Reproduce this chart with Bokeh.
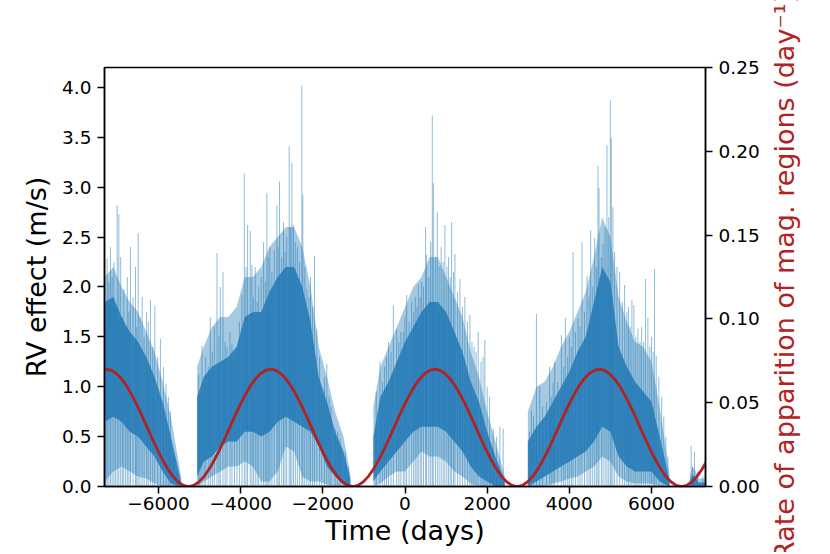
import numpy as np
from bokeh.plotting import figure
from bokeh.layouts import row
from bokeh.models import Range1d, LinearAxis, FixedTicker
from bokeh.core.properties import value
from bokeh.embed import file_html
from bokeh.resources import INLINE

# ---------------- data ----------------
x_ticks = [-6000, -4000, -2000, 0, 2000, 4000, 6000]
x_tick_labels = ["\u22126000", "\u22124000", "\u22122000", "0", "2000", "4000", "6000"]
y_ticks = [0.0, 0.5, 1.0, 1.5, 2.0, 2.5, 3.0, 3.5, 4.0]
y_tick_labels = ["0.0", "0.5", "1.0", "1.5", "2.0", "2.5", "3.0", "3.5", "4.0"]
rate_ticks = [0.0, 0.05, 0.10, 0.15, 0.20, 0.25]
rate_tick_labels = ["0.00", "0.05", "0.10", "0.15", "0.20", "0.25"]

# RV effect: envelopes of the dense noisy signal (per active cycle segment)
band_seg = [0]*10 + [1]*20 + [2]*17 + [3]*18 + [4]*5
band_t = [-7315, -7100, -6900, -6700, -6500, -6300, -6100, -5900, -5700, -5450,
          -5060, -4900, -4700, -4500, -4300, -4100, -3900, -3700, -3500, -3300,
          -3100, -2900, -2700, -2500, -2300, -2100, -1900, -1700, -1500, -1330,
          -770, -600, -400, -200, 0, 200, 400, 600, 800, 1000, 1200, 1400, 1600,
          1800, 2000, 2200, 2430,
          2990, 3200, 3400, 3600, 3800, 4000, 4200, 4400, 4600, 4800, 5000, 5200,
          5400, 5600, 5800, 6000, 6200, 6440,
          6930, 7000, 7080, 7150, 7315]
core_hi = [1.85, 1.90, 1.70, 1.55, 1.45, 1.30, 1.10, 0.85, 0.50, 0.05,
           0.90, 1.10, 1.20, 1.25, 1.30, 1.40, 1.70, 1.75, 1.75, 1.95,
           2.10, 2.20, 2.20, 2.00, 1.65, 1.10, 0.85, 0.55, 0.35, 0.08,
           0.50, 0.90, 1.05, 1.25, 1.45, 1.60, 1.75, 1.85, 1.85, 1.75, 1.55, 1.35, 1.05,
           0.85, 0.55, 0.30, 0.06,
           0.45, 0.60, 0.70, 0.85, 1.00, 1.15, 1.35, 1.50, 1.85, 2.20, 2.05, 1.40,
           1.20, 1.05, 0.95, 0.85, 0.50, 0.06,
           0.05, 0.12, 0.08, 0.04, 0.04]
core_lo = [0.65, 0.70, 0.65, 0.55, 0.50, 0.40, 0.30, 0.15, 0.03, 0.0,
           0.10, 0.25, 0.30, 0.40, 0.45, 0.45, 0.55, 0.55, 0.50, 0.55,
           0.65, 0.70, 0.65, 0.60, 0.55, 0.40, 0.20, 0.10, 0.02, 0.0,
           0.05, 0.15, 0.25, 0.35, 0.45, 0.55, 0.60, 0.60, 0.60, 0.55, 0.45, 0.35, 0.20,
           0.10, 0.05, 0.0, 0.0,
           0.0, 0.05, 0.10, 0.15, 0.20, 0.25, 0.30, 0.35, 0.45, 0.60, 0.55, 0.30,
           0.20, 0.15, 0.15, 0.15, 0.05, 0.0,
           0.0, 0.0, 0.0, 0.0, 0.0]
outer_hi = [2.10, 2.20, 2.00, 1.85, 1.75, 1.55, 1.35, 1.05, 0.70, 0.10,
            1.20, 1.40, 1.60, 1.70, 1.70, 1.80, 2.10, 2.10, 2.20, 2.40,
            2.50, 2.60, 2.60, 2.40, 2.00, 1.40, 1.10, 0.75, 0.50, 0.12,
            0.80, 1.20, 1.40, 1.60, 1.80, 2.00, 2.10, 2.30, 2.30, 2.10, 1.90, 1.70, 1.35,
            1.10, 0.75, 0.45, 0.10,
            0.75, 1.00, 1.05, 1.20, 1.40, 1.55, 1.75, 1.95, 2.30, 2.70, 2.50, 1.90,
            1.65, 1.45, 1.40, 1.25, 0.80, 0.12,
            0.10, 0.20, 0.15, 0.08, 0.08]
outer_lo = [0.05, 0.15, 0.20, 0.15, 0.10, 0.08, 0.03, 0.0, 0.0, 0.0,
            0.0, 0.05, 0.10, 0.15, 0.20, 0.20, 0.25, 0.20, 0.05, 0.05,
            0.15, 0.40, 0.35, 0.10, 0.05, 0.05, 0.02, 0.0, 0.0, 0.0,
            0.0, 0.03, 0.10, 0.15, 0.15, 0.25, 0.35, 0.30, 0.30, 0.25, 0.15, 0.10, 0.03,
            0.0, 0.0, 0.0, 0.0,
            0.0, 0.0, 0.0, 0.03, 0.05, 0.08, 0.10, 0.15, 0.20, 0.30, 0.25, 0.10,
            0.05, 0.03, 0.03, 0.03, 0.0, 0.0,
            0.0, 0.0, 0.0, 0.0, 0.0]

# individual spikes of the RV signal (time, value)
spike_t = [-7300, -7280, -7250, -7210, -7169, -7130, -7087, -7050, -7006, -6966,
           -6920, -6880, -6845, -6800, -6760, -6720, -6683, -6620, -6561, -6530,
           -6496, -6450, -6399, -6350, -6290, -6250, -6197, -6140, -6091, -6020,
           -5954, -5880, -5816, -5760, -5711, -5630, -5560,
           -5022, -4990, -4941, -4890, -4850, -4790, -4739, -4690, -4640, -4576,
           -4530, -4496, -4431, -4380, -4334, -4260, -4212, -4150, -4090, -4030,
           -3969, -3912, -3870, -3831, -3767, -3726, -3690, -3645, -3600, -3560,
           -3500, -3443, -3400, -3362, -3330, -3290, -3240, -3183, -3119, -3090,
           -3054, -3000, -2957, -2920, -2880, -2819, -2790, -2754, -2714, -2670,
           -2620, -2570, -2511, -2487, -2440, -2390, -2340, -2300, -2250, -2203,
           -2147, -2080, -2025, -1960, -1904, -1850, -1800, -1701, -1640, -1580,
           -1450, -1380,
           -700, -608, -550, -500, -450, -400, -340, -284, -203, -150, -100, -41,
           0, 41, 100, 162, 210, 250, 290, 324, 370, 405, 450, 502, 527, 580, 624,
           664, 689, 740, 786, 830, 880, 930, 972, 1020, 1060, 1100, 1134, 1180,
           1215, 1280, 1337, 1400, 1458, 1520, 1580, 1630, 1680, 1730, 1782, 1850,
           1900, 1944, 2000, 2060, 2147, 2230, 2309, 2390,
           3030, 3078, 3130, 3200, 3281, 3350, 3443, 3520, 3560, 3605, 3645, 3720,
           3807, 3860, 3904, 3960, 4000, 4050, 4091, 4150, 4212, 4260, 4309, 4370,
           4431, 4480, 4520, 4570, 4617, 4660, 4698, 4723, 4780, 4820, 4870, 4917,
           4960, 4998, 5022, 5060, 5103, 5160, 5225, 5290, 5346, 5400, 5440, 5480,
           5524, 5573, 5620, 5670, 5720, 5760, 5810, 5856, 5913, 5960, 6000, 6040,
           6075, 6115, 6180, 6250, 6300, 6350, 6400,
           6966, 7000, 7047, 7120, 7250]
spike_v = [1.85, 1.60, 2.28, 2.05, 2.40, 2.10, 2.25, 1.80, 2.82, 2.73,
           2.30, 1.70, 1.98, 1.60, 2.10, 1.75, 2.40, 1.90, 2.20, 1.60,
           2.54, 1.70, 1.90, 1.50, 1.75, 1.65, 1.87, 1.40, 1.81, 1.30,
           1.48, 1.20, 1.03, 0.90, 0.75, 0.31, 0.15,
           1.12, 0.95, 1.41, 1.05, 1.30, 1.20, 1.70, 1.35, 1.60, 2.34,
           1.50, 2.00, 2.15, 1.45, 1.40, 1.55, 1.43, 1.30, 1.40, 1.65,
           1.92, 3.14, 2.20, 2.62, 2.56, 2.22, 1.90, 2.20, 1.85, 2.00,
           2.10, 2.45, 2.05, 2.94, 2.30, 2.40, 2.15, 2.37, 2.82, 2.40,
           3.06, 2.30, 2.65, 2.35, 2.50, 3.41, 2.60, 3.24, 2.62, 2.45,
           2.40, 2.25, 4.02, 2.92, 2.20, 1.98, 1.90, 2.10, 1.80, 2.31,
           1.58, 1.30, 0.91, 1.10, 1.23, 0.90, 0.80, 0.58, 0.55, 0.48,
           0.35, 0.20,
           0.95, 1.25, 1.05, 1.20, 1.30, 1.45, 1.35, 1.81, 1.58, 1.45, 1.55, 1.55,
           1.70, 1.92, 1.65, 1.85, 1.75, 1.90, 1.80, 2.02, 1.90, 2.05, 2.00, 2.60,
           2.32, 2.10, 2.45, 3.72, 3.04, 2.30, 2.75, 2.20, 2.40, 2.25, 2.62, 2.20,
           2.30, 2.10, 2.65, 2.15, 2.33, 1.95, 2.08, 1.80, 1.90, 1.65, 1.72, 1.45,
           1.40, 1.35, 1.55, 1.25, 1.30, 1.47, 1.00, 0.90, 0.58, 0.50, 0.60, 0.58,
           0.55, 0.76, 0.70, 1.73, 1.00, 0.80, 0.85, 1.20, 0.90, 1.04, 1.25, 1.05,
           1.52, 1.20, 1.69, 1.30, 1.50, 1.40, 2.35, 1.55, 1.69, 1.60, 2.45, 1.75,
           2.11, 1.90, 2.57, 2.00, 2.49, 2.20, 3.22, 2.99, 2.30, 2.43, 2.60, 3.42,
           2.70, 3.87, 3.49, 2.80, 2.35, 2.20, 2.15, 1.85, 2.02, 1.75, 1.80, 1.60,
           1.87, 1.82, 1.50, 1.58, 1.45, 1.60, 1.45, 2.08, 1.69, 1.40, 1.50, 1.35,
           2.18, 1.31, 1.10, 0.90, 0.70, 0.50, 0.30,
           0.41, 0.20, 0.35, 0.15, 0.10]

# rate of apparition of magnetic regions (day^-1)
rate_t = [-7520, -7395, -7270, -7145, -7020, -6895, -6770, -6645, -6520, -6395,
          -6270, -6145, -6020, -5895, -5770, -5645, -5520, -5395, -5270, -5145,
          -5020, -4895, -4770, -4645, -4520, -4395, -4270, -4145, -4020, -3895,
          -3770, -3645, -3520, -3395, -3270, -3145, -3020, -2895, -2770, -2645,
          -2520, -2395, -2270, -2145, -2020, -1895, -1770, -1645, -1520, -1395,
          -1270, -1145, -1020, -895, -770, -645, -520, -395, -270, -145,
          -20, 105, 230, 355, 480, 605, 730, 855, 980, 1105,
          1230, 1355, 1480, 1605, 1730, 1855, 1980, 2105, 2230, 2355,
          2480, 2605, 2730, 2855, 2980, 3105, 3230, 3355, 3480, 3605,
          3730, 3855, 3980, 4105, 4230, 4355, 4480, 4605, 4730, 4855,
          4980, 5105, 5230, 5355, 5480, 5605, 5730, 5855, 5980, 6105,
          6230, 6355, 6480, 6605, 6730, 6855, 6980, 7105, 7230, 7355, 7480]
rate_v = [0.0673, 0.0693,
          0.0700, 0.0693, 0.0673, 0.0641, 0.0598, 0.0544, 0.0484, 0.0418,
          0.0350, 0.0282, 0.0216, 0.0156, 0.0103, 0.0059, 0.0027, 0.0007,
          0.0000, 0.0007, 0.0027, 0.0059, 0.0103, 0.0156, 0.0216, 0.0282,
          0.0350, 0.0418, 0.0484, 0.0544, 0.0598, 0.0641, 0.0673, 0.0693,
          0.0700, 0.0693, 0.0673, 0.0641, 0.0598, 0.0544, 0.0484, 0.0418,
          0.0350, 0.0282, 0.0216, 0.0156, 0.0103, 0.0059, 0.0027, 0.0007,
          0.0000, 0.0007, 0.0027, 0.0059, 0.0103, 0.0156, 0.0216, 0.0282,
          0.0350, 0.0418, 0.0484, 0.0544, 0.0598, 0.0641, 0.0673, 0.0693,
          0.0700, 0.0693, 0.0673, 0.0641, 0.0598, 0.0544, 0.0484, 0.0418,
          0.0350, 0.0282, 0.0216, 0.0156, 0.0103, 0.0059, 0.0027, 0.0007,
          0.0000, 0.0007, 0.0027, 0.0059, 0.0103, 0.0156, 0.0216, 0.0282,
          0.0350, 0.0418, 0.0484, 0.0544, 0.0598, 0.0641, 0.0673, 0.0693,
          0.0700, 0.0693, 0.0673, 0.0641, 0.0598, 0.0544, 0.0484, 0.0418,
          0.0350, 0.0282, 0.0216, 0.0156, 0.0103, 0.0059, 0.0027, 0.0007,
          0.0000, 0.0007, 0.0027, 0.0059, 0.0103, 0.0156, 0.0216]

right_label = "Rate of apparition of mag. regions (day\u207b\u00b9)"

# ---------------- figure ----------------
FONT = "DejaVu Sans"
BLUE = "#1f77b4"
RED = "#b22222"
H = 552
MAIN_W = 762
SIDE_W = 66

p = figure(width=MAIN_W, height=H, output_backend="svg", toolbar_location=None,
           x_range=Range1d(-7315, 7315), y_range=Range1d(0, 4.2),
           min_border_left=104, min_border_right=56, min_border_top=67,
           min_border_bottom=66)
p.frame_align = False
p.extra_y_ranges = {"rate": Range1d(0, 0.25)}
p.grid.visible = False
p.outline_line_color = "black"
p.outline_line_width = 1.5
p.background_fill_color = "white"
p.border_fill_color = "white"

seg = np.array(band_seg)
bt = np.array(band_t, dtype=float)
chi, clo = np.array(core_hi), np.array(core_lo)
ohi, olo = np.array(outer_hi), np.array(outer_lo)
for s in np.unique(seg):
    m = seg == s
    p.varea(x=bt[m], y1=olo[m], y2=ohi[m], fill_color=BLUE, fill_alpha=0.4)
    p.varea(x=bt[m], y1=clo[m], y2=chi[m], fill_color=BLUE, fill_alpha=0.82)

p.segment(x0=spike_t, y0=[0.0]*len(spike_t), x1=spike_t, y1=spike_v,
          line_color=BLUE, line_alpha=0.5, line_width=1)

p.line(rate_t, rate_v, y_range_name="rate", line_color=RED, line_width=2.8)

def style(ax, size_label="27px"):
    ax.axis_line_color = "black"
    ax.axis_line_width = 1.5
    ax.major_tick_line_color = "black"
    ax.major_tick_line_width = 1.5
    ax.major_tick_in = 0
    ax.major_tick_out = 7
    ax.minor_tick_line_color = None
    ax.major_label_text_font = FONT
    ax.major_label_text_font_size = "18.5px"
    ax.major_label_text_color = "black"
    ax.major_label_standoff = 6
    ax.axis_label_text_font = FONT
    ax.axis_label_text_font_size = size_label
    ax.axis_label_text_font_style = "normal"
    ax.axis_label_text_color = "black"

xa = p.xaxis[0]
xa.ticker = FixedTicker(ticks=x_ticks)
xa.major_label_overrides = {t: l for t, l in zip(x_ticks, x_tick_labels)}
xa.axis_label = "Time (days)"
style(xa)
xa.major_label_standoff = 3
xa.axis_label_standoff = 2

ya = p.yaxis[0]
ya.ticker = FixedTicker(ticks=y_ticks)
ya.major_label_overrides = {t: l for t, l in zip(y_ticks, y_tick_labels)}
ya.axis_label = "RV effect (m/s)"
style(ya)
ya.axis_label_standoff = 7

ra = LinearAxis(y_range_name="rate", ticker=FixedTicker(ticks=rate_ticks))
ra.major_label_overrides = {t: l for t, l in zip(rate_ticks, rate_tick_labels)}
style(ra)
p.add_layout(ra, "right")

# side strip carrying the right-hand axis title (reads bottom to top)
q = figure(width=SIDE_W, height=H, output_backend="svg", toolbar_location=None,
           x_range=Range1d(0, SIDE_W), y_range=Range1d(0, H),
           x_axis_location=None, y_axis_location=None,
           min_border=0, min_border_left=0, min_border_right=0,
           min_border_top=0, min_border_bottom=0)
q.frame_align = False
q.grid.visible = False
q.outline_line_color = None
q.background_fill_color = "white"
q.border_fill_color = "white"
q.text(x=[22], y=[H / 2], text=[right_label], angle=np.pi / 2,
       text_align="center", text_baseline="alphabetic", text_color=RED,
       text_font=value(FONT), text_font_size=value("27px"))

layout = row(p, q, spacing=0)
open("out.html", "w").write(file_html(layout, INLINE))
